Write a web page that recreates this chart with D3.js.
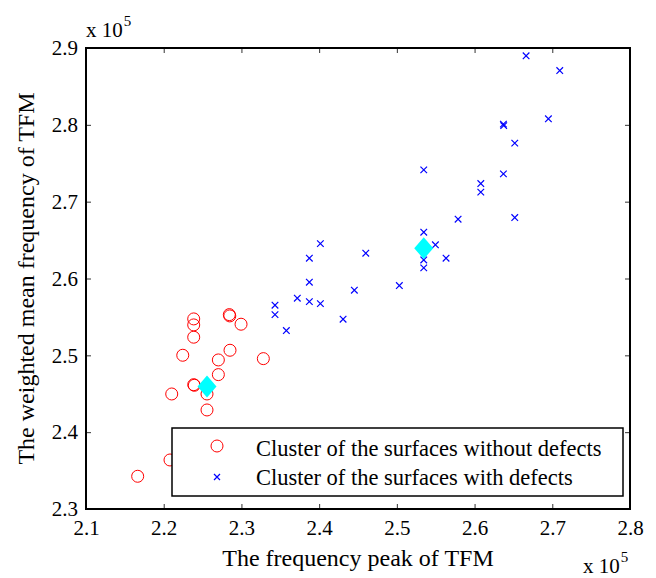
<!DOCTYPE html>
<html>
<head>
<meta charset="utf-8">
<script src="https://cdn.jsdelivr.net/npm/d3@7"></script>
<style>
  body { margin: 0; background: #fff; }
</style>
</head>
<body>
<svg id="chart" width="656" height="578"></svg>
<script>
// values in units of 1e5
const noDefectX = [2.2386, 2.2386, 2.2386, 2.2844, 2.2850, 2.2995, 2.2245, 2.2853, 2.2703, 2.3282,
  2.2703, 2.2386, 2.2394, 2.2103, 2.2557, 2.2557, 2.2081, 2.1665];
const noDefectY = [2.5474, 2.5396, 2.5236, 2.5530, 2.5513, 2.5405, 2.5001, 2.5066, 2.4940, 2.4957,
  2.4749, 2.4618, 2.4610, 2.4497, 2.4497, 2.4289, 2.3638, 2.3426];
const defectX = [2.3432, 2.3432, 2.3578, 2.3719, 2.3874, 2.3874, 2.3874, 2.4016, 2.4016, 2.4308,
  2.4453, 2.4600, 2.5032, 2.5346, 2.5346, 2.5346, 2.5346, 2.5496, 2.5633, 2.5788,
  2.6080, 2.6080, 2.6371, 2.6375, 2.6517, 2.6517, 2.6371, 2.6663, 2.6950, 2.7096];
const defectY = [2.5652, 2.5530, 2.5322, 2.5743, 2.5699, 2.5952, 2.6264, 2.6454, 2.5673, 2.5470,
  2.5848, 2.6329, 2.5908, 2.6603, 2.6242, 2.6138, 2.7414, 2.6438, 2.6264, 2.6772,
  2.7236, 2.7124, 2.8009, 2.7990, 2.7762, 2.6793, 2.7362, 2.8898, 2.8078, 2.8707];
const centroidX = [2.2557, 2.5346];
const centroidY = [2.4593, 2.6395];
const xTicks = [2.1, 2.2, 2.3, 2.4, 2.5, 2.6, 2.7, 2.8];
const yTicks = [2.3, 2.4, 2.5, 2.6, 2.7, 2.8, 2.9];
const legendLabels = ["Cluster of the surfaces without defects", "Cluster of the surfaces with defects"];

const svg = d3.select("#chart");
const m = { left: 86, right: 630, top: 48, bottom: 509 };

const x = d3.scaleLinear().domain([2.1, 2.8]).range([m.left, m.right]);
const y = d3.scaleLinear().domain([2.3, 2.9]).range([m.bottom, m.top]);

// Axes (MATLAB style, ticks inward on all four sides)
const fmt = d3.format(".1f");
const axisStyle = (g) => {
  g.select(".domain").remove();
  g.selectAll(".tick line").attr("stroke", "#333").attr("stroke-width", 1);
  g.selectAll(".tick text").attr("fill", "#000").style("font-size", "21px");
};
svg.append("g").attr("transform", `translate(0,${m.bottom})`)
  .call(d3.axisBottom(x).tickValues(xTicks).tickFormat(fmt).tickSizeInner(-5).tickPadding(11))
  .call(axisStyle);
svg.append("g").attr("transform", `translate(0,${m.top})`)
  .call(d3.axisTop(x).tickValues(xTicks).tickFormat("").tickSizeInner(-5))
  .call(axisStyle);
svg.append("g").attr("transform", `translate(${m.left},0)`)
  .call(d3.axisLeft(y).tickValues(yTicks).tickFormat(fmt).tickSizeInner(-5).tickPadding(8))
  .call(axisStyle);
svg.append("g").attr("transform", `translate(${m.right},0)`)
  .call(d3.axisRight(y).tickValues(yTicks).tickFormat("").tickSizeInner(-5))
  .call(axisStyle);

svg.append("rect")
  .attr("x", m.left).attr("y", m.top)
  .attr("width", m.right - m.left).attr("height", m.bottom - m.top)
  .attr("fill", "none").attr("stroke", "#000").attr("stroke-width", 2);

// Red circles
svg.append("g").selectAll("circle")
  .data(noDefectX.map((d, i) => [d, noDefectY[i]]))
  .enter()
  .append("circle")
  .attr("cx", (d) => x(d[0]))
  .attr("cy", (d) => y(d[1]))
  .attr("r", 6)
  .attr("fill", "none")
  .attr("stroke", "#ff0000")
  .attr("stroke-width", 1);

// Blue crosses
const cross = (s) => `M${-s},${-s}L${s},${s}M${-s},${s}L${s},${-s}`;
svg.append("g").selectAll("path")
  .data(defectX.map((d, i) => [d, defectY[i]]))
  .enter()
  .append("path")
  .attr("transform", (d) => `translate(${x(d[0])},${y(d[1])})`)
  .attr("d", cross(3.3))
  .attr("stroke", "#0000ff")
  .attr("stroke-width", 1.2);

// Centroids
svg.append("g").selectAll("path")
  .data(centroidX.map((d, i) => [d, centroidY[i]]))
  .enter()
  .append("path")
  .attr("transform", (d) => `translate(${x(d[0])},${y(d[1])})`)
  .attr("d", "M0,-11L9.5,0L0,11L-9.5,0Z")
  .attr("fill", "#00ffff");

// Legend
const lg = svg.append("g");
lg.append("rect")
  .attr("x", 172).attr("y", 428).attr("width", 451).attr("height", 68)
  .attr("fill", "#fff").attr("stroke", "#000").attr("stroke-width", 1.5);
lg.append("circle").attr("cx", 217).attr("cy", 446).attr("r", 6)
  .attr("fill", "none").attr("stroke", "#ff0000").attr("stroke-width", 1);
lg.append("path").attr("transform", "translate(217,477)").attr("d", cross(3))
  .attr("stroke", "#0000ff").attr("stroke-width", 1.2);
lg.selectAll("text")
  .data(legendLabels)
  .enter()
  .append("text")
  .attr("x", 256)
  .attr("y", (_, i) => 456 + i * 29)
  .style("font-size", "22.5px")
  .text((d) => d);

// Axis labels
svg.append("text")
  .attr("x", (m.left + m.right) / 2).attr("y", 566)
  .attr("text-anchor", "middle").style("font-size", "24px")
  .text("The frequency peak of TFM");
svg.append("text")
  .attr("transform", `translate(34,${(m.top + m.bottom) / 2}) rotate(-90)`)
  .attr("text-anchor", "middle").style("font-size", "24px")
  .text("The weighted mean frequency of TFM");

// Exponent labels
const expo = (tx, ty) => {
  const t = svg.append("text").attr("x", tx).attr("y", ty).style("font-size", "21px");
  t.append("tspan").text("x 10");
  t.append("tspan").attr("dx", 1).attr("dy", -11).style("font-size", "15px").text("5");
};
expo(86, 37);
expo(583, 573);

svg.selectAll("text").style("font-family", '"Liberation Serif"');
</script>
</body>
</html>
